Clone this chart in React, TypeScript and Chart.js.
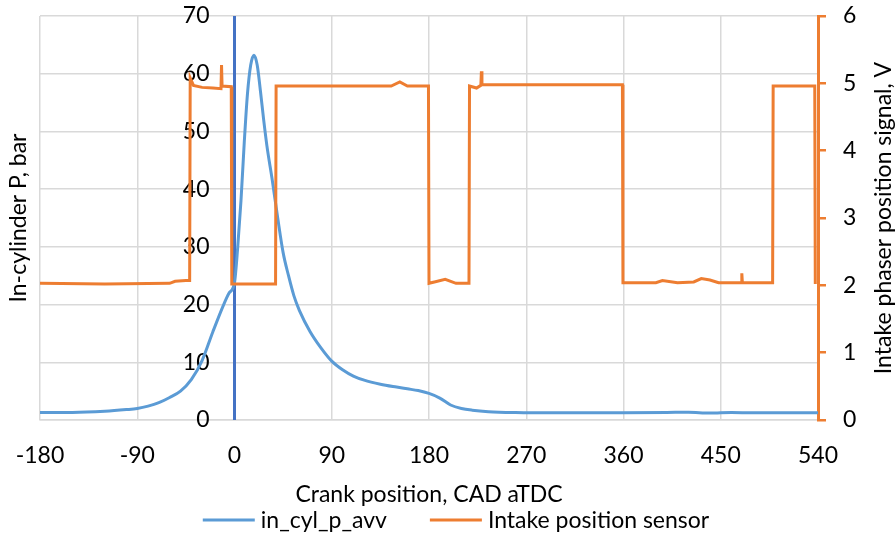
import React, { useEffect, useRef } from "react";
import { Chart, registerables } from "chart.js";

Chart.register(...registerables);

// ---- data ----
const pressureDeg = [-180, -150, -120, -100, -90, -80, -70, -60, -50, -40, -30, -20, -10, -5, 0, 3, 6, 9, 12, 15, 18, 21, 24, 27, 30, 35, 40, 45, 50, 55, 60, 70, 80, 90, 100, 110, 120, 135, 150, 160, 170, 180, 190, 200, 210, 220, 235, 260, 300, 360, 400, 420, 440, 460, 480, 540];
const pressureBar = [1.3, 1.3, 1.5, 1.8, 2.0, 2.4, 3.0, 3.9, 5.0, 7.0, 10.3, 15.3, 20.0, 22.0, 23.8, 30, 38, 48, 56.5, 61.5, 63.2, 61.5, 57, 52, 47.5, 41.5, 35, 29, 25, 21.5, 19, 15.3, 12.5, 10.2, 8.7, 7.6, 6.9, 6.2, 5.7, 5.4, 5.1, 4.6, 3.8, 2.6, 2.0, 1.7, 1.45, 1.3, 1.25, 1.25, 1.3, 1.35, 1.2, 1.3, 1.25, 1.25];

const sensorDeg = [-180, -120, -60, -55, -45, -41.5, -41, -38, -30, -20, -12.5, -12, -11.5, -3, -2.5, 38, 38.5, 145, 153, 160, 179.5, 180, 185, 195, 205, 217, 217.5, 224, 228, 228.5, 229, 359, 359.5, 390, 396, 410, 425, 432, 440, 448, 469, 469.5, 470, 498, 498.5, 537, 537.5];
const sensorVolt = [2.03, 2.02, 2.03, 2.06, 2.07, 2.07, 5.08, 4.97, 4.94, 4.93, 4.92, 5.27, 4.96, 4.95, 2.02, 2.02, 4.96, 4.96, 5.02, 4.96, 4.96, 2.03, 2.05, 2.09, 2.03, 2.03, 4.96, 4.93, 4.97, 5.18, 4.98, 4.98, 2.04, 2.04, 2.07, 2.04, 2.05, 2.1, 2.08, 2.04, 2.04, 2.18, 2.04, 2.04, 4.96, 4.96, 2.02];

const seriesNames = ["in_cyl_p_avv", "Intake position sensor"];
const xTitle = "Crank position, CAD aTDC";
const yLeftTitle = "In-cylinder P, bar";
const yRightTitle = "Intake phaser position signal, V";
const xMin = -180, xMax = 540, xStep = 90;
const yMin = 0, yMax = 70, yStep = 10;
const y1Min = 0, y1Max = 6, y1Step = 1;
const axisCrossDeg = 0;

const BLUE = "#5B9BD5";
const ORANGE = "#ED7D31";
const AXIS_BLUE = "#4472C4";
const GRID = "#d9d9d9";
const TEXT = "#000000";
const FAMILY = "Lato, 'Liberation Sans', sans-serif";
const FSIZE = 23;

const overlayPlugin = {
  id: "overlay",
  beforeDatasetsDraw(chart: any) {
    const { ctx, chartArea, scales } = chart;
    const x0 = scales.x.getPixelForValue(axisCrossDeg);
    ctx.save();
    ctx.font = `${FSIZE}px ${FAMILY}`;
    ctx.fillStyle = TEXT;
    ctx.textBaseline = "middle";
    // primary axis labels beside the axis that crosses at 0
    ctx.textAlign = "right";
    scales.y.ticks.forEach((t: any) => {
      ctx.fillText(String(t.value), x0 - 25, scales.y.getPixelForValue(t.value));
    });
    // secondary axis labels
    ctx.textAlign = "left";
    scales.y1.ticks.forEach((t: any) => {
      ctx.fillText(String(t.value), chartArea.right + 25, scales.y1.getPixelForValue(t.value));
    });
    ctx.strokeStyle = AXIS_BLUE;
    ctx.lineWidth = 3;
    ctx.beginPath();
    ctx.moveTo(x0, chartArea.top);
    ctx.lineTo(x0, chartArea.bottom);
    ctx.stroke();
    ctx.restore();
  },
  afterDraw(chart: any) {
    const { ctx, chartArea } = chart;
    ctx.save();
    ctx.font = `${FSIZE}px ${FAMILY}`;
    ctx.fillStyle = TEXT;
    ctx.translate(chart.width - 12, (chartArea.top + chartArea.bottom) / 2);
    ctx.rotate(-Math.PI / 2);
    ctx.textAlign = "center";
    ctx.textBaseline = "middle";
    ctx.fillText(yRightTitle, 0, 0);
    ctx.restore();

    ctx.save();
    ctx.font = `${FSIZE}px ${FAMILY}`;
    ctx.textBaseline = "middle";
    ctx.textAlign = "left";
    const markerW = 52, textGap = 6, itemGap = 43;
    const items = chart.data.datasets.map((d: any) => ({ text: d.label, color: d.borderColor, w: d.borderWidth }));
    const widths = items.map((it: any) => markerW + textGap + ctx.measureText(it.text).width);
    const total = widths.reduce((a: number, b: number) => a + b, 0) + itemGap * (items.length - 1);
    let x = chart.width / 2 + 8 - total / 2;
    const y = chart.height - 17;
    items.forEach((it: any, i: number) => {
      ctx.strokeStyle = it.color;
      ctx.lineWidth = it.w;
      ctx.beginPath();
      ctx.moveTo(x, y);
      ctx.lineTo(x + markerW, y);
      ctx.stroke();
      ctx.fillStyle = TEXT;
      ctx.fillText(it.text, x + markerW + textGap, y + 1);
      x += widths[i] + itemGap;
    });
    ctx.restore();
  },
};

export default function App() {
  const ref = useRef<HTMLCanvasElement | null>(null);

  useEffect(() => {
    if (!ref.current) return;
    const font = { family: FAMILY, size: FSIZE };
    const chart = new Chart(ref.current, {
      type: "scatter",
      data: {
        datasets: [
          {
            label: seriesNames[0],
            data: pressureDeg.map((d, i) => ({ x: d, y: pressureBar[i] })),
            borderColor: BLUE,
            backgroundColor: BLUE,
            borderWidth: 3,
            showLine: true,
            pointRadius: 0,
            cubicInterpolationMode: "monotone",
            yAxisID: "y",
            order: 2,
          },
          {
            label: seriesNames[1],
            data: sensorDeg.map((d, i) => ({ x: d, y: sensorVolt[i] })),
            borderColor: ORANGE,
            backgroundColor: ORANGE,
            borderWidth: 3,
            showLine: true,
            pointRadius: 0,
            tension: 0,
            yAxisID: "y1",
            order: 1,
          },
        ],
      },
      options: {
        animation: false,
        responsive: false,
        devicePixelRatio: 1,
        layout: { padding: { left: 2.4, right: 70, top: 16, bottom: 29 } },
        plugins: { legend: { display: false }, tooltip: { enabled: false } },
        scales: {
          x: {
            type: "linear",
            min: xMin,
            max: xMax,
            ticks: { stepSize: xStep, color: TEXT, font, padding: 0, maxRotation: 0 },
            grid: { color: GRID, lineWidth: 1.5, drawTicks: true, tickLength: 22, tickColor: "rgba(0,0,0,0)" },
            border: { color: GRID, width: 1.5 },
            title: { display: true, text: xTitle, color: TEXT, font, padding: { top: 10.8, bottom: 0 } },
          },
          y: {
            position: "left",
            min: yMin,
            max: yMax,
            ticks: { stepSize: yStep, display: false },
            grid: { color: GRID, lineWidth: 1.5, drawTicks: false },
            border: { display: false },
            title: { display: true, text: yLeftTitle, color: TEXT, font, padding: { top: 2, bottom: 8 } },
          },
          y1: {
            position: "right",
            min: y1Min,
            max: y1Max,
            ticks: { stepSize: y1Step, display: false },
            grid: { drawOnChartArea: false, color: ORANGE, lineWidth: 2.5, drawTicks: true, tickLength: 8 },
            border: { color: ORANGE, width: 3 },
          },
        },
      } as any,
      plugins: [overlayPlugin],
    });
    return () => chart.destroy();
  }, []);

  return (
    <div style={{ position: "fixed", left: 0, top: 0, width: 896, height: 537, background: "#fff" }}>
      <canvas ref={ref} width={896} height={537} style={{ width: 896, height: 537 }} />
    </div>
  );
}
